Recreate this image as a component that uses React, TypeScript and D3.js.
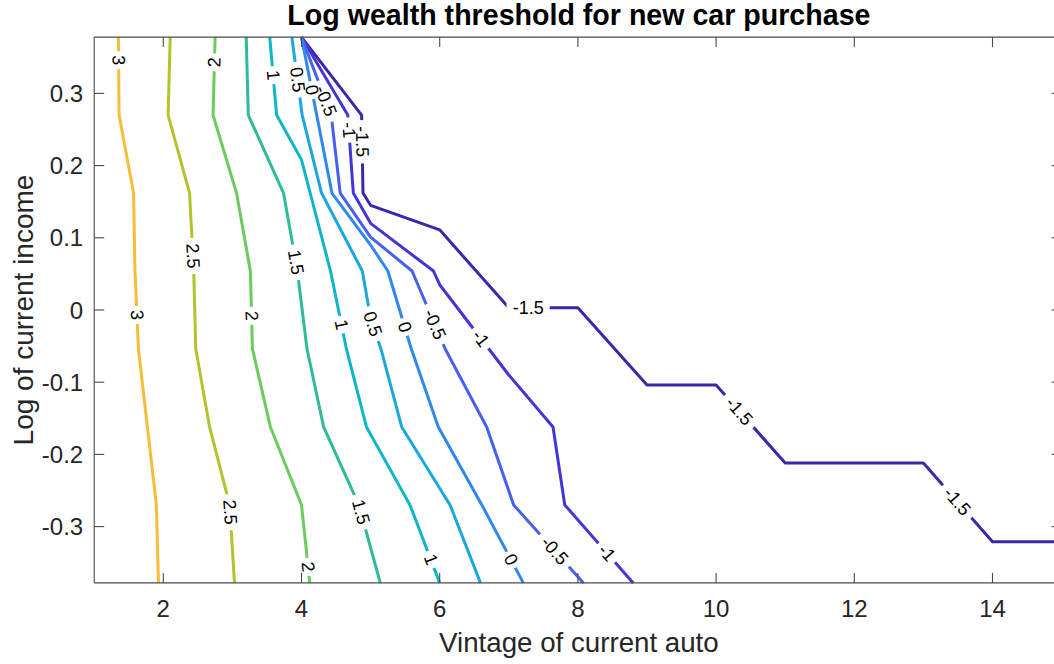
import React from 'react';
import * as d3 from 'd3';

// ---------- data ----------
const TITLE = 'Log wealth threshold for new car purchase';
const X_LABEL = 'Vintage of current auto';
const Y_LABEL = 'Log of current income';

const X_TICKS = [2, 4, 6, 8, 10, 12, 14];
const X_TICK_LABELS = ['2', '4', '6', '8', '10', '12', '14'];
const Y_TICKS = [-0.3, -0.2, -0.1, 0, 0.1, 0.2, 0.3];
const Y_TICK_LABELS = ['-0.3', '-0.2', '-0.1', '0', '0.1', '0.2', '0.3'];

const LEVELS = [-1.5, -1, -0.5, 0, 0.5, 1, 1.5, 2, 2.5, 3];
const LEVEL_TEXT = ['-1.5', '-1', '-0.5', '0', '0.5', '1', '1.5', '2', '2.5', '3'];

// contour vertices: [vintage, log income]
const C_M15: [number, number][] = [[4.0, 0.378], [4.87, 0.27], [4.89, 0.162], [5.0, 0.145], [6.0, 0.111], [7.0, 0.003], [8.0, 0.003], [9.0, -0.104], [10.0, -0.104], [11.0, -0.212], [13.0, -0.212], [14.0, -0.321], [15.0, -0.321]];
const C_M1: [number, number][] = [[4.0, 0.378], [4.67, 0.27], [4.75, 0.162], [5.0, 0.12], [5.91, 0.054], [6.0, 0.035], [7.0, -0.09], [7.64, -0.162], [7.81, -0.27], [8.8, -0.378]];
const C_M05: [number, number][] = [[4.0, 0.378], [4.43, 0.27], [4.56, 0.162], [5.0, 0.101], [5.6, 0.054], [6.08, -0.054], [6.68, -0.162], [7.07, -0.27], [8.08, -0.378]];
const C_0: [number, number][] = [[4.0, 0.378], [4.22, 0.27], [4.44, 0.162], [5.0, 0.09], [5.25, 0.054], [5.59, -0.054], [5.98, -0.162], [6.61, -0.27], [7.21, -0.378]];
const C_05: [number, number][] = [[3.86, 0.378], [4.01, 0.27], [4.29, 0.162], [4.88, 0.054], [5.0, -0.011], [5.15, -0.054], [5.45, -0.162], [6.15, -0.27], [6.59, -0.378]];
const C_1: [number, number][] = [[3.54, 0.378], [3.64, 0.27], [4.0, 0.208], [4.42, 0.054], [4.65, -0.054], [4.94, -0.162], [5.57, -0.27], [6.0, -0.378]];
const C_15: [number, number][] = [[3.2, 0.378], [3.23, 0.27], [3.74, 0.162], [3.94, 0.054], [4.08, -0.054], [4.32, -0.162], [4.83, -0.27], [5.14, -0.378]];
const C_2: [number, number][] = [[2.75, 0.378], [2.72, 0.27], [3.06, 0.162], [3.26, 0.054], [3.29, -0.054], [3.55, -0.162], [4.0, -0.27], [4.12, -0.378]];
const C_25: [number, number][] = [[2.1, 0.378], [2.07, 0.27], [2.38, 0.162], [2.44, 0.054], [2.47, -0.054], [2.67, -0.162], [2.96, -0.27], [3.03, -0.378]];
const C_3: [number, number][] = [[1.35, 0.378], [1.36, 0.27], [1.57, 0.162], [1.59, 0.054], [1.64, -0.054], [1.77, -0.162], [1.9, -0.27], [1.93, -0.378]];

// inline label anchors (approximate, snapped onto the line)
const L_M15: [number, number][] = [[4.83, 0.233], [7.28, 0.003], [10.3, -0.143], [13.48, -0.266]];
const L_M1: [number, number][] = [[4.66, 0.249], [6.64, -0.036], [8.41, -0.337]];
const L_M05: [number, number][] = [[4.31, 0.288], [5.9, -0.021], [7.64, -0.335]];
const L_0: [number, number][] = [[4.17, 0.305], [5.48, -0.024], [6.97, -0.349]];
const L_05: [number, number][] = [[3.94, 0.319], [5.04, -0.019]];
const L_1: [number, number][] = [[3.56, 0.325], [4.54, -0.021], [5.86, -0.346]];
const L_15: [number, number][] = [[3.91, 0.066], [4.85, -0.28]];
const L_2: [number, number][] = [[2.73, 0.343], [3.28, -0.008], [4.08, -0.356]];
const L_25: [number, number][] = [[2.42, 0.075], [2.97, -0.28]];
const L_3: [number, number][] = [[1.35, 0.346], [1.6, -0.007]];

const CONTOURS = [C_M15, C_M1, C_M05, C_0, C_05, C_1, C_15, C_2, C_25, C_3];
const LABELS = [L_M15, L_M1, L_M05, L_0, L_05, L_1, L_15, L_2, L_25, L_3];

// ---------- style ----------
const COLORS = ['#3E26A8', '#4436D4', '#4760EE', '#2F88EA', '#1CA6DF', '#0DB6C8', '#2FBB99', '#6CCB5F', '#B5C22C', '#F8BC3B'];
const W = 1054;
const H = 664;
const PL = 94.2, PR = 1061.6, PT = 37.1, PB = 582.9;
const FONT = '"Liberation Sans", Arial, Helvetica, sans-serif';
const AX = '#262626';
const LABEL_FS = 18;

const CHAR_W: Record<string, number> = { '-': 0.333, '.': 0.278 };
function textW(s: string, fs: number) {
  let w = 0;
  for (const c of s) w += CHAR_W[c] ?? 0.556;
  return w * fs;
}

function snap(pts: [number, number][], p: [number, number]) {
  let best = { d: Infinity, x: 0, y: 0, ang: 0 };
  for (let i = 0; i < pts.length - 1; i++) {
    const [ax, ay] = pts[i];
    const [bx, by] = pts[i + 1];
    const dx = bx - ax, dy = by - ay;
    const L2 = dx * dx + dy * dy || 1;
    let t = ((p[0] - ax) * dx + (p[1] - ay) * dy) / L2;
    t = Math.max(0, Math.min(1, t));
    const qx = ax + t * dx, qy = ay + t * dy;
    const d = Math.hypot(qx - p[0], qy - p[1]);
    if (d < best.d) {
      let ang = (Math.atan2(dy, dx) * 180) / Math.PI;
      if (ang > 90) ang -= 180;
      if (ang < -90) ang += 180;
      best = { d, x: qx, y: qy, ang };
    }
  }
  return best;
}

export default function App() {
  const x = d3.scaleLinear().domain([1, 15]).range([PL, PR]);
  const y = d3.scaleLinear().domain([-0.378, 0.378]).range([PB, PT]);
  const line = d3
    .line<[number, number]>()
    .x((d) => x(d[0]))
    .y((d) => y(d[1]));

  const items = CONTOURS.map((c, i) => {
    const px: [number, number][] = c.map((d) => [x(d[0]), y(d[1])]);
    const txt = LEVEL_TEXT[i];
    const tw = textW(txt, LABEL_FS);
    const labs = LABELS[i].map((l) => snap(px, [x(l[0]), y(l[1])]));
    return { px, txt, tw, labs, color: COLORS[i], level: LEVELS[i], data: c };
  });

  const tickLen = 10;

  return (
    <svg
      width={W}
      height={H}
      style={{ position: 'absolute', left: 0, top: 0, background: '#fff' }}
      fontFamily={FONT}
    >
      <rect x={0} y={0} width={W} height={H} fill="#fff" />
      <defs>
        {items.map((it, i) => (
          <mask key={i} id={`gap${i}`} maskUnits="userSpaceOnUse" x={0} y={0} width={W + 20} height={H}>
            <rect x={0} y={0} width={W + 20} height={H} fill="white" />
            {it.labs.map((l, j) => {
              const gw = it.tw * 1.2 + 6;
              const gh = 16;
              return (
                <rect
                  key={j}
                  x={-gw / 2}
                  y={-gh / 2}
                  width={gw}
                  height={gh}
                  fill="black"
                  transform={`translate(${l.x},${l.y}) rotate(${l.ang})`}
                />
              );
            })}
          </mask>
        ))}
      </defs>

      {/* contour lines */}
      {items.map((it, i) => (
        <path
          key={i}
          d={line(it.data) || ''}
          fill="none"
          stroke={it.color}
          strokeWidth={3}
          strokeLinejoin="round"
          mask={`url(#gap${i})`}
        />
      ))}

      {/* contour labels */}
      {items.map((it, i) =>
        it.labs.map((l, j) => (
          <text
            key={`${i}-${j}`}
            transform={`translate(${l.x},${l.y}) rotate(${l.ang})`}
            textAnchor="middle"
            dominantBaseline="central"
            fontSize={LABEL_FS}
            fill="#000"
          >
            {it.txt}
          </text>
        ))
      )}

      {/* axes box */}
      <g stroke="#4a4a4a" strokeWidth={1.1} fill="none">
        <line x1={PL} y1={PB} x2={PR} y2={PB} />
        <line x1={PL} y1={PT} x2={PR} y2={PT} />
        <line x1={PL} y1={PT} x2={PL} y2={PB} />
        <line x1={PR} y1={PT} x2={PR} y2={PB} />
        {X_TICKS.map((t) => (
          <g key={`xt${t}`}>
            <line x1={x(t)} y1={PB} x2={x(t)} y2={PB - tickLen} />
            <line x1={x(t)} y1={PT} x2={x(t)} y2={PT + tickLen} />
          </g>
        ))}
        {Y_TICKS.map((t) => (
          <g key={`yt${t}`}>
            <line x1={PL} y1={y(t)} x2={PL + tickLen} y2={y(t)} />
            <line x1={PR} y1={y(t)} x2={PR - tickLen} y2={y(t)} />
          </g>
        ))}
      </g>

      {/* tick labels */}
      {X_TICKS.map((t, i) => (
        <text key={`xl${t}`} x={x(t)} y={617} textAnchor="middle" fontSize={24} fill={AX}>
          {X_TICK_LABELS[i]}
        </text>
      ))}
      {Y_TICKS.map((t, i) => (
        <text
          key={`yl${t}`}
          x={PL - 11}
          y={y(t)}
          textAnchor="end"
          dominantBaseline="central"
          fontSize={24}
          fill={AX}
        >
          {Y_TICK_LABELS[i]}
        </text>
      ))}

      {/* axis labels */}
      <text x={(PL + PR) / 2 + 1} y={652} textAnchor="middle" fontSize={27.7} fill={AX}>
        {X_LABEL}
      </text>
      <text
        transform={`translate(33,${(PT + PB) / 2}) rotate(-90)`}
        textAnchor="middle"
        fontSize={28}
        fill={AX}
      >
        {Y_LABEL}
      </text>

      {/* title */}
      <text x={(PL + PR) / 2 + 1} y={25} textAnchor="middle" fontSize={28.6} fontWeight="bold" fill="#000">
        {TITLE}
      </text>
    </svg>
  );
}
